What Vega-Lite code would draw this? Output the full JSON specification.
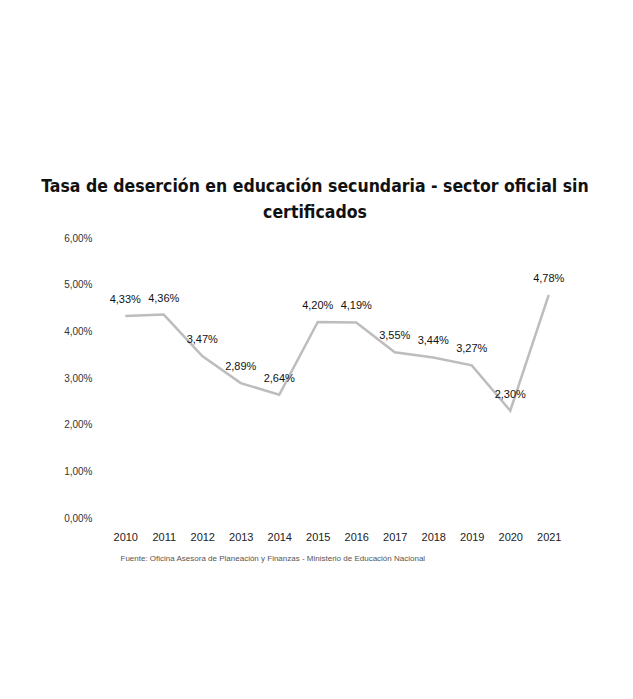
{
  "$schema": "https://vega.github.io/schema/vega-lite/v6.json",
  "autosize": "none",
  "width": 462,
  "height": 280,
  "padding": {"left": 106, "top": 238, "right": 65, "bottom": 181},
  "background": "white",
  "config": {
    "locale": {"number": {"decimal": ",", "thousands": ".", "grouping": [3], "currency": ["", " €"]}},
    "view": {"stroke": null},
    "font": "Liberation Sans"
  },
  "title": {
    "text": ["Tasa de deserción en educación secundaria - sector oficial sin", "certificados"],
    "font": "DejaVu Sans Condensed",
    "fontWeight": "bold",
    "fontSize": 17.5,
    "lineHeight": 26,
    "color": "#111111",
    "anchor": "middle",
    "dx": -22,
    "offset": 12
  },
  "data": {
    "values": [
      {"year": "2010", "rate": 0.0433},
      {"year": "2011", "rate": 0.0436},
      {"year": "2012", "rate": 0.0347},
      {"year": "2013", "rate": 0.0289},
      {"year": "2014", "rate": 0.0264},
      {"year": "2015", "rate": 0.0420},
      {"year": "2016", "rate": 0.0419},
      {"year": "2017", "rate": 0.0355},
      {"year": "2018", "rate": 0.0344},
      {"year": "2019", "rate": 0.0327},
      {"year": "2020", "rate": 0.0230},
      {"year": "2021", "rate": 0.0478}
    ]
  },
  "encoding": {
    "x": {
      "field": "year",
      "type": "ordinal",
      "scale": {"paddingInner": 0, "paddingOuter": 0},
      "axis": {
        "title": "Fuente: Oficina Asesora de Planeación y Finanzas - Ministerio de Educación Nacional",
        "titleFont": "Liberation Sans",
        "titleFontSize": 8,
        "titleFontWeight": "normal",
        "titleColor": "#555555",
        "titleAnchor": "start",
        "titleX": 14,
        "titleY": 36,
        "labelAngle": 0,
        "labelFontSize": 11,
        "labelColor": "#222222",
        "labelPadding": 13,
        "domain": false,
        "ticks": false
      }
    },
    "y": {
      "field": "rate",
      "type": "quantitative",
      "scale": {"domain": [0, 0.06]},
      "axis": {
        "title": null,
        "format": ".2%",
        "values": [0, 0.01, 0.02, 0.03, 0.04, 0.05, 0.06],
        "labelOverlap": false,
        "labelFontSize": 10,
        "labelColor": "#333333",
        "labelPadding": 14,
        "domain": false,
        "ticks": false,
        "grid": false
      }
    }
  },
  "layer": [
    {"mark": {"type": "line", "color": "#bdbdbd", "strokeWidth": 2.5}},
    {
      "mark": {"type": "text", "dy": -16, "fontSize": 11, "color": "#111111", "align": "center"},
      "encoding": {"text": {"field": "rate", "type": "quantitative", "format": ".2%"}}
    }
  ]
}
